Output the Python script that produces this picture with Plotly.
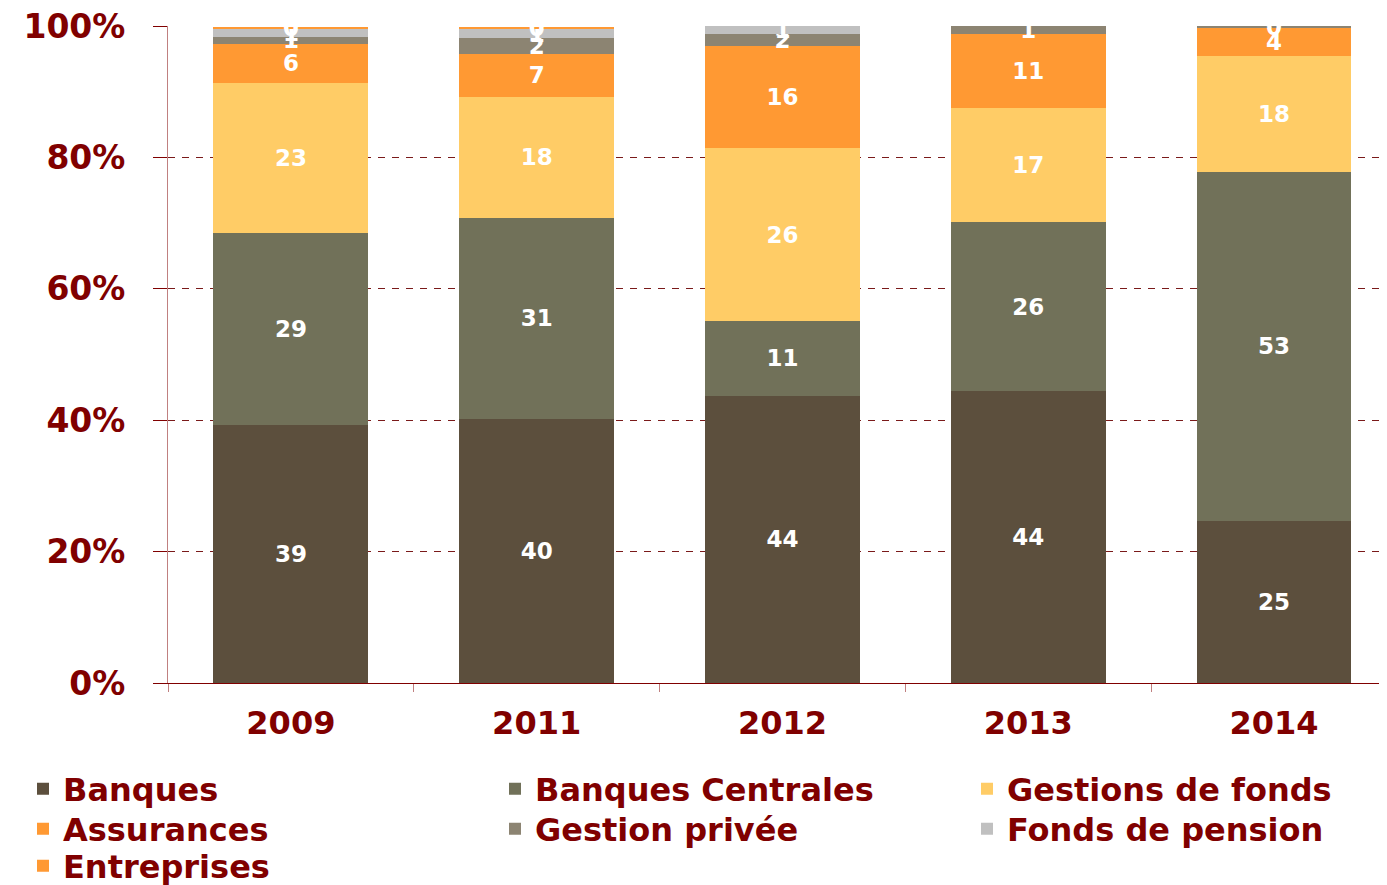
import plotly.graph_objects as go

years = ["2009", "2011", "2012", "2013", "2014"]

banques = [39.3, 40.2, 43.7, 44.4, 24.7]
banques_centrales = [29.2, 30.6, 11.4, 25.7, 53.1]
gestions_fonds = [22.8, 18.4, 26.3, 17.4, 17.6]
assurances = [6.0, 6.6, 15.6, 11.3, 4.3]
gestion_privee = [1.0, 2.3, 1.8, 1.2, 0.3]
fonds_pension = [1.2, 1.4, 1.2, 0.0, 0.0]
entreprises = [0.4, 0.4, 0.0, 0.0, 0.0]

series = [
    ("Banques", banques, "#5C4F3D"),
    ("Banques Centrales", banques_centrales, "#717159"),
    ("Gestions de fonds", gestions_fonds, "#FFCC66"),
    ("Assurances", assurances, "#FF9933"),
    ("Gestion privée", gestion_privee, "#8C8472"),
    ("Fonds de pension", fonds_pension, "#C0C0C0"),
    ("Entreprises", entreprises, "#FF9933"),
]

OFF = 8  # page body margin
W, H = 1387, 885
ML, MT, MR = 168 - OFF, 26 - OFF, OFF
MB = H - (683 - OFF)
PW, PH = W - ML - MR, H - MT - MB
FONT = "DejaVu Sans"
RED = "#800000"

# legend placement (column text-start px, row centre px) in page pixels
legend_pos = [(63, 789), (535, 789), (1007, 789),
              (63, 829), (535, 829), (1007, 829),
              (63, 866)]

fig = go.Figure()
layout_legends = {}
for i, (name, vals, col) in enumerate(series):
    lname = "legend" if i == 0 else f"legend{i+1}"
    fig.add_trace(go.Bar(
        x=years, y=vals, name=name,
        marker=dict(color=col, line=dict(width=0)),
        texttemplate="%{y:.0f}", textposition="inside",
        insidetextanchor="middle", textangle=0,
        textfont=dict(family=FONT, size=23, color="white", weight="bold"),
        legend=lname,
    ))
    tx, ty = legend_pos[i]
    layout_legends[lname] = dict(
        x=(tx - OFF - 40 - ML) / PW, y=(H - MB - (ty - OFF)) / PH,
        xref="paper", yref="paper",
        xanchor="left", yanchor="middle",
        font=dict(family=FONT, size=32, color=RED, weight="bold"),
        bgcolor="rgba(0,0,0,0)",
    )

fig.update_layout(
    barmode="stack",
    bargap=0.37,
    width=W, height=H,
    margin=dict(l=ML, r=MR, t=MT, b=MB, autoexpand=False),
    plot_bgcolor="white", paper_bgcolor="white",
    uniformtext=dict(minsize=23, mode="show"),
    showlegend=True,
    **layout_legends,
)

fig.update_xaxes(
    range=[-0.5, 4.46],
    showline=True, linecolor=RED, linewidth=1,
    ticks="outside", tickson="boundaries", ticklen=8, tickcolor="#C08080",
    tickfont=dict(family=FONT, size=32, color=RED, weight="bold"),
    tickangle=0,
    ticklabelstandoff=12,
    showgrid=False,
)
fig.update_yaxes(
    range=[0, 100], dtick=20, ticksuffix="%",
    showline=True, linecolor="#C08080", linewidth=1,
    ticks="outside", ticklen=14, tickcolor=RED,
    tickfont=dict(family=FONT, size=33, color=RED, weight="bold"),
    ticklabelstandoff=21, ticklabeloverflow="allow",
    showgrid=True, gridcolor="#7A1A1A", griddash="7px,7px", gridwidth=1,
    zeroline=False,
)

fig.write_html("out.html")
